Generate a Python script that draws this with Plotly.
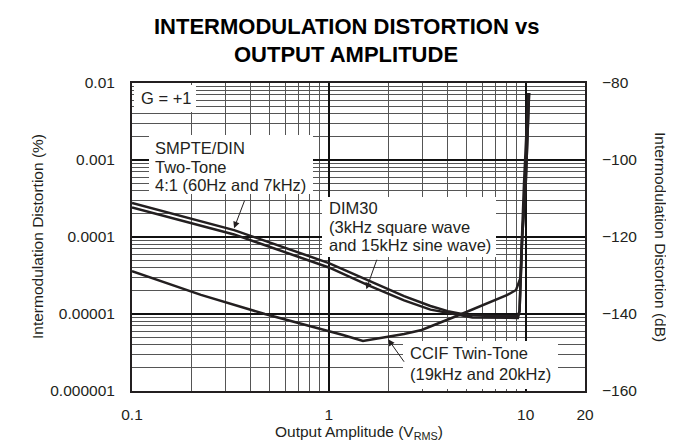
import math
import plotly.graph_objects as go

# ---------------- data ----------------
x_tick_vals = [0.1, 1, 10, 20]
x_tick_text = ["0.1", "1", "10", "20"]
y_tick_vals = [1e-6, 1e-5, 1e-4, 1e-3, 1e-2]
y_tick_text = ["0.000001", "0.00001", "0.0001", "0.001", "0.01"]
db_tick_vals = [-160, -140, -120, -100, -80]
db_tick_text = ["\u2212160", "\u2212140", "\u2212120", "\u2212100", "\u221280"]

# SMPTE/DIN two-tone 4:1 (60Hz and 7kHz), IMD in %
smpte_x = [0.1, 0.33, 1.0, 1.60, 2.41, 3.28, 4.02, 5.04, 6.7, 9.12, 9.3, 9.6, 10.0, 10.4]
smpte_y = [2.77e-4, 1.23e-4, 4.59e-5, 2.69e-5, 1.71e-5, 1.27e-5, 1.09e-5, 9.7e-6, 9.4e-6, 9.4e-6,
           1.09e-5, 1.03e-4, 5.0e-4, 7.4e-3]

# DIM30 (3kHz square wave and 15kHz sine wave), IMD in %
dim30_x = [0.1, 0.33, 1.0, 1.60, 2.41, 3.28, 4.02, 5.36, 9.12, 9.3, 9.6, 10.0, 10.4]
dim30_y = [2.42e-4, 1.08e-4, 4.02e-5, 2.34e-5, 1.50e-5, 1.14e-5, 1.04e-5, 9.0e-6, 8.9e-6,
           1.09e-5, 1.03e-4, 5.0e-4, 7.4e-3]

# CCIF twin-tone (19kHz and 20kHz), IMD in %
ccif_x = [0.1, 0.224, 0.473, 0.944, 1.18, 1.49, 2.41, 2.96, 4.59, 8.07, 8.93, 9.4, 9.8, 10.3]
ccif_y = [3.61e-5, 1.77e-5, 1.0e-5, 6.3e-6, 5.33e-6, 4.46e-6, 5.5e-6, 6.2e-6, 9.7e-6, 1.77e-5,
          2.05e-5, 2.94e-5, 5.0e-4, 7.4e-3]

x_minor = [0.2, 0.3, 0.4, 0.5, 0.6, 0.7, 0.8, 0.9, 2, 3, 4, 5, 6, 7, 8, 9]
y_minor = [k * 10.0 ** e for e in range(-6, -2) for k in range(2, 10)]

# ---------------- layout geometry ----------------
W, H = 674, 444
L, R, T, B = 124, 577, 75, 383
FONT = "Liberation Sans, Arial, Helvetica, sans-serif"
INK = "#231f20"
TICK = 15.5
LAB = 16.5


def px(xp):
    return (xp - L) / (R - L)


def py(yp):
    return (B - yp) / (B - T)


fig = go.Figure()
for xs, ys in [(smpte_x, smpte_y), (dim30_x, dim30_y), (ccif_x, ccif_y)]:
    fig.add_trace(go.Scatter(x=xs, y=ys, mode="lines",
                             line=dict(color=INK, width=2.5),
                             showlegend=False, hoverinfo="skip"))

# same SMPTE series expressed in dB, carried by the right-hand axis (invisible)
smpte_db = [20 * math.log10(v / 100.0) for v in smpte_y]
fig.add_trace(go.Scatter(x=smpte_x, y=smpte_db, yaxis="y2", mode="lines",
                         line=dict(color=INK, width=2.5), opacity=0,
                         showlegend=False, hoverinfo="skip"))

axis_common = dict(showline=True, linecolor=INK, linewidth=2, mirror=True,
                   ticks="", zeroline=False,
                   tickfont=dict(family=FONT, size=TICK, color=INK))

fig.update_layout(
    width=W, height=H,
    margin=dict(l=L, r=W - R, t=T, b=H - B, pad=0),
    paper_bgcolor="white", plot_bgcolor="white",
    font=dict(family=FONT, size=TICK, color=INK),
    xaxis=dict(type="log", range=[math.log10(0.1), math.log10(20)],
               tickmode="array", tickvals=x_tick_vals, ticktext=x_tick_text,
               showgrid=True, gridcolor="#111111", gridwidth=2,
               ticklabelstandoff=8,
               minor=dict(tickvals=x_minor, showgrid=True, gridcolor="#555555",
                          gridwidth=1, ticks=""),
               **axis_common),
    yaxis=dict(type="log", range=[-6, -2],
               tickmode="array", tickvals=y_tick_vals, ticktext=y_tick_text,
               showgrid=True, gridcolor="#111111", gridwidth=2,
               ticklabelstandoff=12,
               minor=dict(tickvals=y_minor, showgrid=True, gridcolor="#555555",
                          gridwidth=1, ticks=""),
               **axis_common),
    yaxis2=dict(overlaying="y", side="right", range=[-160, -80], anchor="x",
                tickmode="array", tickvals=db_tick_vals, ticktext=db_tick_text,
                showgrid=False, showline=False, zeroline=False, ticks="",
                ticklabelstandoff=16,
                tickfont=dict(family=FONT, size=TICK, color=INK)),
)

# white label boxes (mask the grid behind the labels)
boxes = [(126, 77, 188, 104), (141, 127, 305, 186), (314, 189, 488, 249), (395, 333, 550, 381)]
for x0, y0, x1, y1 in boxes:
    fig.add_shape(type="rect", xref="paper", yref="paper",
                  x0=px(x0), x1=px(x1), y0=py(y1), y1=py(y0),
                  fillcolor="white", line=dict(width=0), layer="above")

ann = []


def text_at(xp, yp, s, size=LAB, anchor="left", angle=0):
    ann.append(dict(xref="paper", yref="paper", x=px(xp), y=py(yp), text=s,
                    showarrow=False, xanchor=anchor, yanchor="middle",
                    textangle=angle,
                    font=dict(family=FONT, size=size, color=INK)))


text_at(131, 90, "G = +1")
for yy, s in zip([140, 159, 177], ["SMPTE/DIN", "Two-Tone", "4:1 (60Hz and 7kHz)"]):
    text_at(145, yy, s)
for yy, s in zip([200, 219, 237], ["DIM30", "(3kHz square wave", "and 15kHz sine wave)"]):
    text_at(319, yy, s)
for yy, s in zip([345, 366], ["CCIF Twin-Tone", "(19kHz and 20kHz)"]):
    text_at(400, yy, s)

# title
ann.append(dict(xref="paper", yref="paper", x=px(338), y=py(19), showarrow=False,
                text="<b>INTERMODULATION DISTORTION vs</b>", xanchor="center", yanchor="middle",
                font=dict(family=FONT, size=22, color="black")))
ann.append(dict(xref="paper", yref="paper", x=px(338), y=py(46), showarrow=False,
                text="<b>OUTPUT AMPLITUDE</b>", xanchor="center", yanchor="middle",
                font=dict(family=FONT, size=22, color="black")))

# axis titles
text_at(29, 229, "Intermodulation Distortion (%)", size=TICK, anchor="center", angle=-90)
text_at(653, 229, "Intermodulation Distortion (dB)", size=TICK, anchor="center", angle=90)
text_at(351, 424, "Output Amplitude (V<sub>RMS</sub>)", size=TICK, anchor="center")

# arrows pointing from the labels to the curves
for hx, hy, dx, dy in [(0.33, 1.30e-4, 11, -29), (1.55, 2.1e-5, 11, -31), (2.0, 4.7e-6, 17, 24)]:
    ann.append(dict(x=math.log10(hx), y=math.log10(hy), xref="x", yref="y",
                    text="", showarrow=True, ax=dx, ay=dy,
                    arrowhead=2, arrowsize=1.3, arrowwidth=1, arrowcolor=INK))

fig.update_layout(annotations=ann)
fig.write_html("out.html")
